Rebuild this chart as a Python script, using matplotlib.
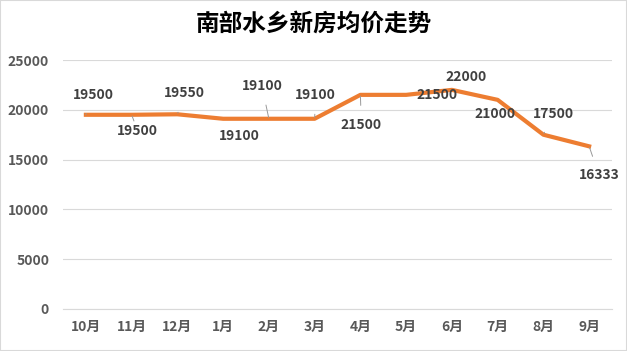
import matplotlib.pyplot as plt
from matplotlib.patches import Rectangle

plt.rcParams['font.family'] = ['Noto Sans CJK SC', 'DejaVu Sans']

months = ['10月', '11月', '12月', '1月', '2月', '3月', '4月', '5月', '6月', '7月', '8月', '9月']
prices = [19500, 19500, 19550, 19100, 19100, 19100, 21500, 21500, 22000, 21000, 17500, 16333]
# label offsets in pixels (dx, dy), and whether a leader line is drawn
label_offsets = [(7, 20), (6, -16), (7, 21), (16, -17), (-7, 33), (1, 24),
                 (1, -30), (31, 0), (14, 13), (-3, -14), (10, 21), (10, -29)]
leaders = [True, True, True, False, True, True, True, False, False, False, True, True]

fig = plt.figure(figsize=(6.27, 3.51), dpi=100)
ax = fig.add_axes([63 / 627, 1 - 309 / 351, 549 / 627, 249 / 351])

x = range(len(months))
ax.plot(x, prices, color='#ED7D31', lw=3.0, solid_joinstyle='round', zorder=3)

for i, (v, (dx, dy), lead) in enumerate(zip(prices, label_offsets, leaders)):
    ax.annotate(str(v), (i, v), xytext=(dx, dy), textcoords='offset pixels',
                ha='center', va='center', fontsize=10, fontweight='bold', color='#404040',
                arrowprops=dict(arrowstyle='-', color='#999999', lw=0.7,
                                shrinkA=7, shrinkB=1) if lead else None, zorder=4)

ax.set_xlim(-0.5, len(months) - 0.5)
ax.set_ylim(0, 25000)
ax.set_yticks(range(0, 25001, 5000))
ax.set_xticks(list(x))
ax.set_xticklabels(months)
ax.grid(axis='y', color='#D9D9D9', lw=0.8)
ax.set_axisbelow(True)
for s in ['top', 'right', 'left']:
    ax.spines[s].set_visible(False)
ax.spines['bottom'].set_color('#D9D9D9')
ax.tick_params(length=0, labelsize=10, labelcolor='#595959')
ax.tick_params(axis='y', pad=10)
ax.tick_params(axis='x', pad=8)
for lab in ax.get_xticklabels() + ax.get_yticklabels():
    lab.set_fontweight('bold')

fig.text(0.5, 1 - 24 / 351, '南部水乡新房均价走势', ha='center', va='center',
         fontsize=17, fontweight='bold', color='#000000')
fig.patches.append(Rectangle((0, 0), 1, 1, transform=fig.transFigure, fill=False,
                             edgecolor='#D9D9D9', lw=1.5))

fig.savefig('out.png', dpi=100)
